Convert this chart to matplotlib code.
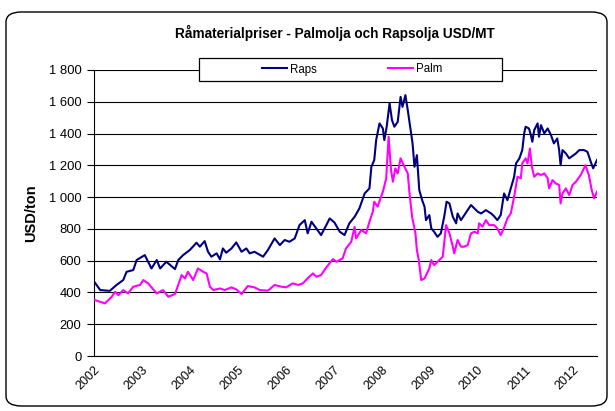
import matplotlib
matplotlib.use("Agg")
import matplotlib.pyplot as plt
from matplotlib.patches import FancyBboxPatch, Rectangle
from matplotlib.ticker import FuncFormatter

plt.rcParams['font.family'] = ['Liberation Sans', 'DejaVu Sans']

# Raps (rapsolja), USD/ton, avlast ur bilden
raps_year = [2002.02, 2002.13, 2002.33, 2002.47, 2002.61, 2002.68, 2002.82, 2002.89,
             2003.06, 2003.20, 2003.31, 2003.38, 2003.51, 2003.69, 2003.76, 2003.86,
             2004.00, 2004.14, 2004.21, 2004.31, 2004.38, 2004.45, 2004.56, 2004.63,
             2004.69, 2004.76, 2004.87, 2004.97, 2005.08, 2005.18, 2005.25, 2005.35,
             2005.53, 2005.63, 2005.77, 2005.88, 2005.98, 2006.08, 2006.19, 2006.29,
             2006.40, 2006.46, 2006.54, 2006.64, 2006.74, 2006.85, 2006.92, 2007.02,
             2007.13, 2007.23, 2007.33, 2007.44, 2007.54, 2007.65, 2007.75, 2007.79,
             2007.85, 2007.89, 2007.96, 2008.03, 2008.06, 2008.11, 2008.17, 2008.22,
             2008.27, 2008.34, 2008.40, 2008.44, 2008.50, 2008.55, 2008.62, 2008.65,
             2008.69, 2008.74, 2008.79, 2008.85, 2008.90, 2008.93, 2009.00, 2009.04,
             2009.10, 2009.17, 2009.24, 2009.31, 2009.36, 2009.42, 2009.49, 2009.56,
             2009.59, 2009.66, 2009.73, 2009.80, 2009.87, 2009.94, 2010.01, 2010.08,
             2010.18, 2010.29, 2010.35, 2010.42, 2010.49, 2010.56, 2010.63, 2010.70,
             2010.77, 2010.81, 2010.88, 2010.94, 2010.98, 2011.01, 2011.08, 2011.12,
             2011.15, 2011.19, 2011.26, 2011.29, 2011.33, 2011.40, 2011.47, 2011.54,
             2011.60, 2011.67, 2011.71, 2011.74, 2011.78, 2011.85, 2011.92, 2012.06,
             2012.13, 2012.23, 2012.30, 2012.37, 2012.42, 2012.50]
raps_usd = [461, 415, 410, 447, 478, 530, 541, 604,
            635, 551, 604, 551, 593, 547, 604, 635,
            667, 713, 688, 723, 656, 625, 646, 608,
            677, 650, 677, 715, 656, 677, 646, 656,
            625, 667, 740, 698, 730, 719, 740, 824,
            855, 772, 845, 803, 761, 824, 866, 840,
            782, 761, 835, 876, 929, 1023, 1055, 1191,
            1233, 1359, 1464, 1432, 1359, 1443, 1590, 1485,
            1443, 1474, 1631, 1568, 1642, 1547, 1400, 1338,
            1191, 1264, 1044, 981, 939, 855, 887, 803,
            782, 750, 772, 876, 971, 960, 876, 835,
            897, 855, 887, 918, 950, 929, 908, 897,
            918, 897, 880, 855, 887, 1023, 981, 1055,
            1128, 1212, 1244, 1296, 1401, 1443, 1432, 1390,
            1348, 1422, 1464, 1380, 1453, 1401, 1432, 1390,
            1338, 1369, 1296, 1201, 1296, 1275, 1244, 1275,
            1296, 1296, 1285, 1222, 1181, 1233]

# Palm (palmolja), USD/ton
palm_year = [2002.02, 2002.23, 2002.37, 2002.44, 2002.51, 2002.61, 2002.71, 2002.82,
             2002.96, 2003.03, 2003.13, 2003.31, 2003.44, 2003.55, 2003.69, 2003.72,
             2003.83, 2003.90, 2003.96, 2004.07, 2004.17, 2004.28, 2004.35, 2004.42,
             2004.49, 2004.63, 2004.73, 2004.87, 2004.97, 2005.08, 2005.21, 2005.35,
             2005.46, 2005.63, 2005.77, 2005.91, 2006.01, 2006.15, 2006.26, 2006.36,
             2006.46, 2006.57, 2006.64, 2006.74, 2006.81, 2006.92, 2006.99, 2007.06,
             2007.19, 2007.26, 2007.37, 2007.44, 2007.47, 2007.58, 2007.68, 2007.75,
             2007.82, 2007.85, 2007.92, 2008.03, 2008.10, 2008.15, 2008.20, 2008.24,
             2008.29, 2008.34, 2008.40, 2008.48, 2008.55, 2008.58, 2008.64, 2008.71,
             2008.74, 2008.78, 2008.83, 2008.90, 2009.00, 2009.04, 2009.10, 2009.21,
             2009.28, 2009.35, 2009.42, 2009.49, 2009.52, 2009.59, 2009.66, 2009.73,
             2009.80, 2009.87, 2009.94, 2010.01, 2010.04, 2010.11, 2010.18, 2010.25,
             2010.35, 2010.42, 2010.49, 2010.56, 2010.63, 2010.70, 2010.77, 2010.84,
             2010.91, 2010.94, 2011.01, 2011.05, 2011.10, 2011.14, 2011.19, 2011.26,
             2011.33, 2011.40, 2011.47, 2011.50, 2011.57, 2011.64, 2011.71, 2011.74,
             2011.78, 2011.85, 2011.92, 2011.99, 2012.06, 2012.16, 2012.26, 2012.33,
             2012.39, 2012.44, 2012.50]
palm_usd = [352, 331, 373, 404, 383, 415, 394, 436,
            447, 478, 457, 394, 415, 373, 390, 415,
            509, 488, 530, 478, 551, 530, 520, 436,
            415, 425, 415, 432, 419, 390, 440, 432,
            415, 411, 447, 436, 432, 457, 447, 457,
            489, 520, 499, 509, 541, 585, 610, 593,
            614, 677, 719, 813, 740, 793, 772, 845,
            908, 971, 940, 1034, 1118, 1380, 1170, 1097,
            1181, 1149, 1244, 1191, 1149, 1044, 876, 772,
            667, 604, 478, 488, 551, 604, 572, 604,
            625, 824, 772, 688, 646, 730, 688, 688,
            698, 772, 782, 772, 835, 814, 855, 824,
            824, 803, 761, 808, 866, 897, 1002, 1128,
            1118, 1212, 1244, 1212, 1306, 1191, 1128, 1149,
            1139, 1149, 1118, 1055, 1107, 1086, 1076, 960,
            1023, 1055, 1013, 1076, 1097, 1139, 1201, 1139,
            1044, 992, 1034]

years = list(range(2002, 2013))
y_ticks = list(range(0, 1801, 200))

fig = plt.figure(figsize=(6.15, 4.11), dpi=100)
ax = fig.add_axes([94/615, 1-356/411, (597-94)/615, (356-70)/411])

ax.plot(raps_year, raps_usd, color='#000080', lw=1.5, label='Raps', zorder=3)
ax.plot(palm_year, palm_usd, color='#FF00FF', lw=1.5, label='Palm', zorder=3)

ax.set_xlim(2002, 2012.5)
ax.set_ylim(0, 1800)
ax.set_yticks(y_ticks)
ax.yaxis.set_major_formatter(FuncFormatter(lambda v, p: f"{int(v):,}".replace(",", " ")))
ax.set_xticks(years)
ax.set_xticklabels([str(y) for y in years], rotation=45, ha='right', rotation_mode='anchor')
ax.grid(axis='y', color='black', lw=0.8)
ax.set_axisbelow(True)
for s in ['top', 'right']:
    ax.spines[s].set_visible(False)
ax.spines['left'].set_color('black')
ax.spines['bottom'].set_color('black')
ax.tick_params(axis='y', length=5, width=0.8, labelsize=9.4, pad=4)
ax.tick_params(axis='x', length=0, labelsize=9, pad=6)
ax.set_ylabel('USD/ton', fontsize=10.5, fontweight='bold', labelpad=8)

fig.text(335/615, 1-33/411, 'Råmaterialpriser - Palmolja och Rapsolja USD/MT',
         ha='center', va='center', fontsize=9.8, fontweight='bold')

# legendruta
fig.patches.append(Rectangle((199/615, 1-81/411), 303/615, 23/411, transform=fig.transFigure,
                             facecolor='white', edgecolor='black', lw=0.9, zorder=5))
leg = fig.legend(loc='center', bbox_to_anchor=(352/615, 1-69.5/411), ncol=2, frameon=False,
                 fontsize=8.3, handlelength=2.2, handletextpad=0.2, columnspacing=6.2)
leg.set_zorder(6)

# ram runt diagrammet
fig.patches.append(FancyBboxPatch((6/615, 5/411), 601/615, 394/411, transform=fig.transFigure,
                                  boxstyle='round,pad=0,rounding_size=0.025', facecolor='none',
                                  edgecolor='black', lw=1.0))

fig.savefig('out.png', dpi=100)
